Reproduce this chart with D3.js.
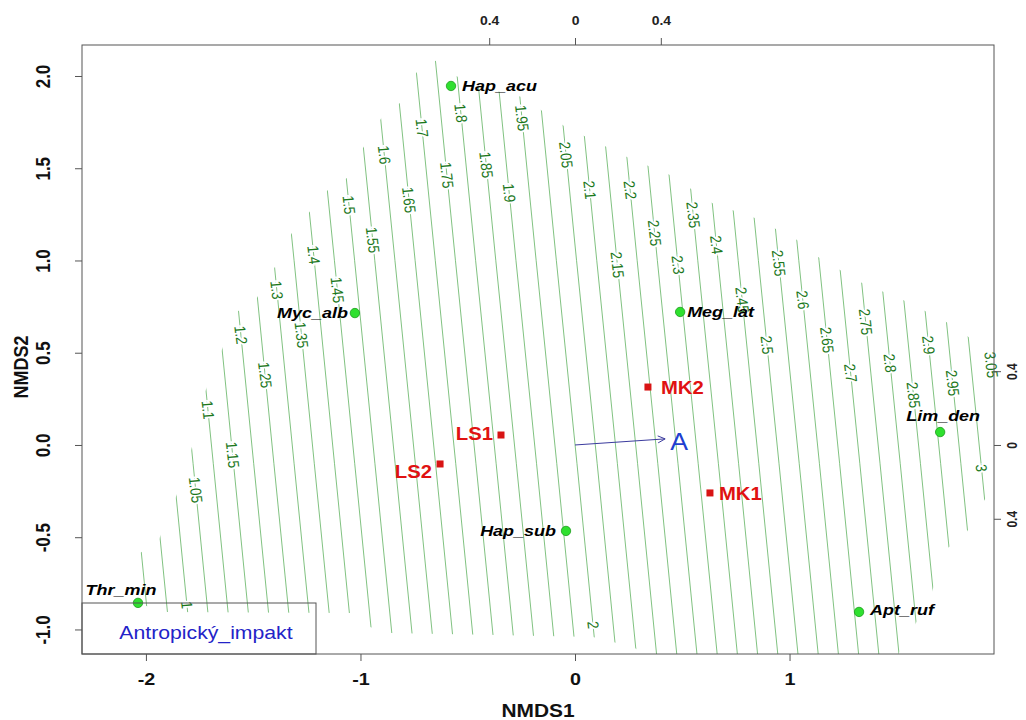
<!DOCTYPE html>
<html>
<head>
<meta charset="utf-8">
<script src="https://cdn.jsdelivr.net/npm/d3@7"></script>
<style>
  body { margin: 0; background: #fff; }
  svg { display: block; }
</style>
</head>
<body>
<svg width="1026" height="720"></svg>
<script>
  var width = 1026
  var height = 720
  var box = {left: 82, right: 994, top: 45, bottom: 654}
  var stretch = 1.16   // the picture was widened a bit after R drew it
  var font = "'Liberation Sans', Arial, sans-serif"

  // axis limits
  var xlim = [-2.298, 1.953]
  var ylim = [-1.133, 2.168]
  var xTicks = [-2, -1, 0, 1]
  var yTicks = [-1, -0.5, 0, 0.5, 1, 1.5, 2]
  var topTicks = [-0.4, 0, 0.4]
  var topTickLabels = ["0.4", "0", "0.4"]
  var rightTicks = [0.4, 0, -0.4]
  var rightTickLabels = ["0.4", "0", "0.4"]

  // fitted surface (ordisurf) on a coarse grid
  var gridX = [-2.4, -1.3, -0.2, 0.9, 2.0]
  var gridY = [-1.2, -0.1, 1.0, 2.1]
  var gridValues = [
    [0.671, 1.255, 1.839, 2.423, 3.007],
    [0.721, 1.305, 1.889, 2.473, 3.057],
    [0.771, 1.355, 1.940, 2.524, 3.108],
    [0.822, 1.406, 1.990, 2.574, 3.158]
  ]
  var levels = [0.9, 0.95, 1, 1.05, 1.1, 1.15, 1.2, 1.25, 1.3, 1.35, 1.4, 1.45, 1.5, 1.55,
    1.6, 1.65, 1.7, 1.75, 1.8, 1.85, 1.9, 1.95, 2, 2.05, 2.1, 2.15, 2.2, 2.25, 2.3, 2.35,
    2.4, 2.45, 2.5, 2.55, 2.6, 2.65, 2.7, 2.75, 2.8, 2.85, 2.9, 2.95, 3, 3.05]

  // where each contour carries its label (NMDS2 value along the line)
  var labelLevels = [1, 1.05, 1.1, 1.15, 1.2, 1.25, 1.3, 1.35, 1.4, 1.45, 1.5, 1.55, 1.6,
    1.65, 1.7, 1.75, 1.8, 1.85, 1.9, 1.95, 2, 2.05, 2.1, 2.15, 2.2, 2.25, 2.3, 2.35, 2.4,
    2.45, 2.5, 2.55, 2.6, 2.65, 2.7, 2.75, 2.8, 2.85, 2.9, 2.95, 3, 3.05]
  var labelY = [-0.867, -0.244, 0.190, -0.054, 0.596, 0.379, 0.840, 0.596, 1.030, 0.840,
    1.301, 1.111, 1.572, 1.328, 1.718, 1.463, 1.799, 1.518, 1.366, 1.772, -0.976, 1.572,
    1.382, 0.976, 1.382, 1.149, 0.976, 1.247, 1.084, 0.786, 0.542, 0.986, 0.786, 0.569,
    0.390, 0.667, 0.444, 0.271, 0.542, 0.336, -0.125, 0.434]

  // region where the surface is drawn
  var hull = [[-2.037, -0.840], [-2.028, -0.585], [-1.944, -0.526], [-1.811, -0.136],
    [-1.725, 0.287], [-1.576, 0.721], [-1.483, 0.797], [-1.399, 0.965], [-1.320, 1.149],
    [-1.152, 1.382], [-1.063, 1.447], [-0.988, 1.610], [-0.900, 1.778], [-0.816, 1.854],
    [-0.737, 2.022], [-0.643, 2.087], [-0.564, 2.005], [-0.443, 1.940], [-0.247, 1.886],
    [-0.051, 1.729], [0.242, 1.561], [0.443, 1.463], [0.639, 1.312], [0.839, 1.230],
    [1.035, 1.111], [1.133, 1.019], [1.338, 0.878], [1.529, 0.786], [1.716, 0.678],
    [1.925, 0.515], [1.935, -0.244], [1.818, -0.488], [1.725, -0.569], [1.655, -0.829],
    [1.492, -1.165], [0.373, -1.165], [0.270, -1.095], [0.084, -1.041], [-0.862, -1.019],
    [-0.956, -0.986], [-1.049, -0.911], [-1.902, -0.905], [-2.014, -0.867]]

  var species = ["Hap_acu", "Myc_alb", "Meg_lat", "Lim_den", "Hap_sub", "Apt_ruf", "Thr_min"]
  var speciesX = [-0.578, -1.026, 0.490, 1.702, -0.042, 1.324, -2.037]
  var speciesY = [1.946, 0.715, 0.721, 0.070, -0.466, -0.905, -0.856]

  var sites = ["MK2", "LS1", "LS2", "MK1"]
  var siteX = [0.340, -0.345, -0.629, 0.629]
  var siteY = [0.314, 0.054, -0.103, -0.260]

  var vectorName = "A"
  var vectorEnd = [0.420, 0.033]
  var legendText = "Antropický_impakt"

  // label placement (px offsets from the point, anchor)
  var speciesLabelPos = [[11, 5, "start"], [-7, 5, "end"], [7, 5, "start"], [3, -11, "middle"],
    [-10, 5, "end"], [11, 3, "start"], [-17, -8, "middle"]]
  var siteLabelPos = [[13, 7, "start"], [-8, 5, "end"], [-8, 14, "end"], [9, 7, "start"]]

  var x = d3.scaleLinear().domain(xlim).range([box.left, box.right])
  var y = d3.scaleLinear().domain(ylim).range([box.bottom, box.top])

  var svg = d3.select("svg")
    .style("font-family", font)

  var defs = svg.append("defs")
  defs.append("clipPath").attr("id", "boxclip")
    .append("rect")
    .attr("x", box.left).attr("y", box.top)
    .attr("width", box.right - box.left).attr("height", box.bottom - box.top)
  defs.append("clipPath").attr("id", "hullclip")
    .append("path")
    .attr("d", d3.line().x(d => x(d[0])).y(d => y(d[1]))(hull) + "Z")

  // contour lines: for each grid row find where the surface reaches the level
  var rowScales = gridValues.map(row => d3.scaleLinear().domain(row).range(gridX))
  var lineAt = lv => d3.scaleLinear().domain(gridY).range(rowScales.map(s => s(lv)))

  var contours = levels.map(lv => ({
    level: lv,
    points: gridY.map((gy, j) => [rowScales[j](lv), gy])
  }))

  var line = d3.line().x(d => x(d[0])).y(d => y(d[1]))

  svg.append("g")
    .attr("clip-path", "url(#boxclip)")
    .append("g")
    .attr("clip-path", "url(#hullclip)")
    .attr("fill", "none")
    .attr("stroke", "#4aa84a")
    .attr("stroke-width", 0.7)
    .selectAll("path")
    .data(contours)
    .join("path")
    .attr("d", d => line(d.points))

  // contour labels
  var labels = labelLevels.map((lv, i) => {
    var f = lineAt(lv)
    var yy = labelY[i]
    var p = [x(f(yy)), y(yy)]
    var a = [x(f(yy + 0.1)), y(yy + 0.1)], b = [x(f(yy - 0.1)), y(yy - 0.1)]
    var ang = Math.atan2(b[1] - a[1], b[0] - a[0]) * 180 / Math.PI
    return {text: String(lv), x: p[0], y: p[1], angle: ang}
  })

  svg.append("g")
    .selectAll("text")
    .data(labels)
    .join("text")
    .attr("transform", d => `translate(${d.x},${d.y}) scale(${stretch},1) rotate(${d.angle})`)
    .attr("text-anchor", "middle")
    .attr("dy", "0.35em")
    .attr("font-size", 13.5)
    .attr("fill", "#1c781c")
    .attr("stroke", "#fff")
    .attr("stroke-width", 3.5)
    .attr("paint-order", "stroke")
    .text(d => d.text)

  // frame
  svg.append("rect")
    .attr("x", box.left).attr("y", box.top)
    .attr("width", box.right - box.left).attr("height", box.bottom - box.top)
    .attr("fill", "none").attr("stroke", "#555").attr("stroke-width", 1)

  function styleAxis(g) {
    g.select(".domain").remove()
    g.selectAll("line").attr("stroke", "#555")
  }

  // bottom axis
  svg.append("g")
    .attr("transform", `translate(0,${box.bottom})`)
    .call(d3.axisBottom(x).tickValues(xTicks).tickFormat(d => String(d)).tickSize(7))
    .call(styleAxis)
    .selectAll("text")
    .attr("y", null).attr("dy", null)
    .attr("transform", `translate(0,31) scale(${stretch},1)`)
    .attr("font-size", 17).attr("font-weight", "bold").attr("fill", "#111")

  // left axis
  svg.append("g")
    .attr("transform", `translate(${box.left},0)`)
    .call(d3.axisLeft(y).tickValues(yTicks).tickFormat(d => d.toFixed(1)).tickSize(7))
    .call(styleAxis)
    .selectAll("text")
    .attr("x", null).attr("dy", null)
    .attr("text-anchor", "middle")
    .attr("transform", `translate(-32,0) scale(${stretch},1) rotate(-90)`)
    .attr("font-size", 17).attr("font-weight", "bold").attr("fill", "#111")

  // top axis (vector scale)
  svg.append("g")
    .attr("transform", `translate(0,${box.top})`)
    .call(d3.axisTop(x).tickValues(topTicks).tickFormat((d, i) => topTickLabels[i]).tickSize(7))
    .call(styleAxis)
    .selectAll("text")
    .attr("y", null).attr("dy", null)
    .attr("transform", `translate(0,-20) scale(${stretch},1)`)
    .attr("font-size", 12).attr("font-weight", "bold").attr("fill", "#222")

  // right axis (vector scale)
  svg.append("g")
    .attr("transform", `translate(${box.right},0)`)
    .call(d3.axisRight(y).tickValues(rightTicks).tickFormat((d, i) => rightTickLabels[i]).tickSize(7))
    .call(styleAxis)
    .selectAll("text")
    .attr("x", null).attr("dy", null)
    .attr("text-anchor", "middle")
    .attr("transform", `translate(23,0) scale(${stretch},1) rotate(-90)`)
    .attr("font-size", 12).attr("font-weight", "bold").attr("fill", "#222")

  // axis titles
  svg.append("text")
    .attr("transform", `translate(${(box.left + box.right) / 2},717) scale(${stretch},1)`)
    .attr("text-anchor", "middle")
    .attr("font-size", 18).attr("font-weight", "bold").attr("fill", "#111")
    .text("NMDS1")
  svg.append("text")
    .attr("transform", `translate(28,367) scale(${stretch},1) rotate(-90)`)
    .attr("text-anchor", "middle")
    .attr("font-size", 18).attr("font-weight", "bold").attr("fill", "#111")
    .text("NMDS2")

  // fitted vector
  var ax0 = x(0), ay0 = y(0), ax1 = x(vectorEnd[0]), ay1 = y(vectorEnd[1])
  var th = Math.atan2(ay1 - ay0, ax1 - ax0), hl = 8, ha = 0.45
  svg.append("path")
    .attr("d", `M${ax0},${ay0}L${ax1},${ay1}` +
      `M${ax1 - hl * Math.cos(th - ha)},${ay1 - hl * Math.sin(th - ha)}L${ax1},${ay1}` +
      `L${ax1 - hl * Math.cos(th + ha)},${ay1 - hl * Math.sin(th + ha)}`)
    .attr("fill", "none").attr("stroke", "#3b3b9e").attr("stroke-width", 1)
  svg.append("text")
    .attr("transform", `translate(${ax1 + 14},${ay1 + 11}) scale(${stretch},1)`)
    .attr("text-anchor", "middle")
    .attr("font-size", 23).attr("fill", "#1f3fd0")
    .text(vectorName)

  // species
  var sp = svg.append("g")
  sp.selectAll("circle")
    .data(species)
    .join("circle")
    .attr("cx", (d, i) => x(speciesX[i]))
    .attr("cy", (d, i) => y(speciesY[i]))
    .attr("r", 4.7)
    .attr("fill", "#2fe02f").attr("stroke", "#1c9c1c").attr("stroke-width", 0.8)
  sp.selectAll("text")
    .data(species)
    .join("text")
    .attr("transform", (d, i) => `translate(${x(speciesX[i]) + speciesLabelPos[i][0]},${y(speciesY[i]) + speciesLabelPos[i][1]}) scale(${stretch},1)`)
    .attr("text-anchor", (d, i) => speciesLabelPos[i][2])
    .attr("font-size", 15.5).attr("font-weight", "bold").attr("font-style", "italic")
    .attr("fill", "#000")
    .text(d => d)

  // sites
  var st = svg.append("g")
  st.selectAll("rect")
    .data(sites)
    .join("rect")
    .attr("x", (d, i) => x(siteX[i]) - 3.5)
    .attr("y", (d, i) => y(siteY[i]) - 3.5)
    .attr("width", 7).attr("height", 7)
    .attr("fill", "#d81414")
  st.selectAll("text")
    .data(sites)
    .join("text")
    .attr("transform", (d, i) => `translate(${x(siteX[i]) + siteLabelPos[i][0]},${y(siteY[i]) + siteLabelPos[i][1]}) scale(${stretch},1)`)
    .attr("text-anchor", (d, i) => siteLabelPos[i][2])
    .attr("font-size", 17.5).attr("font-weight", "bold")
    .attr("fill", "#e01212")
    .text(d => d)

  // legend box (transparent, as in the original)
  svg.append("rect")
    .attr("x", box.left).attr("y", 603)
    .attr("width", 234).attr("height", box.bottom - 603)
    .attr("fill", "none").attr("stroke", "#555").attr("stroke-width", 1)
  svg.append("text")
    .attr("transform", `translate(${box.left + 124},639) scale(${stretch},1)`)
    .attr("text-anchor", "middle")
    .attr("font-size", 18.3).attr("fill", "#2323c8")
    .text(legendText)
</script>
</body>
</html>
